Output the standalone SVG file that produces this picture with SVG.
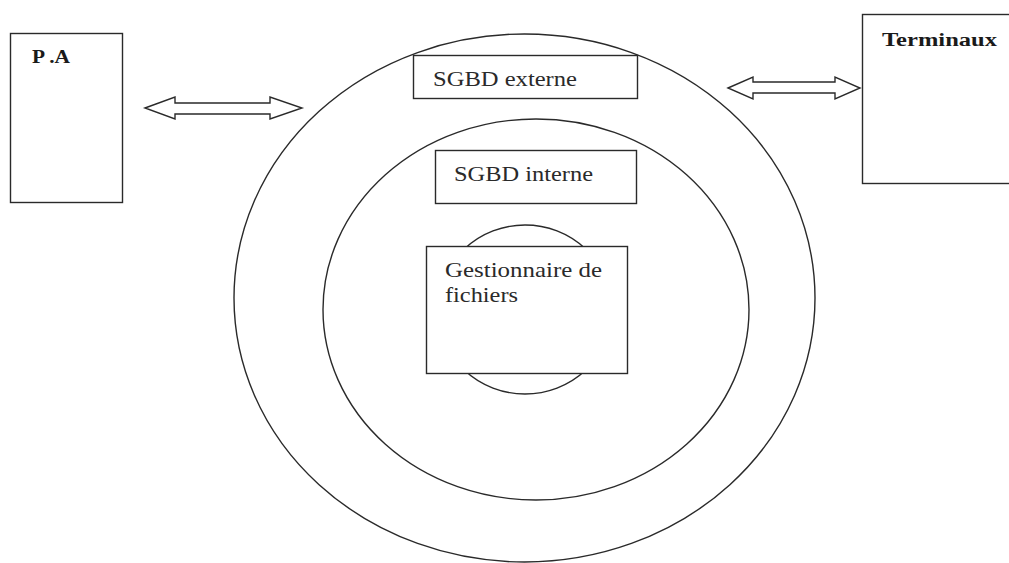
<svg xmlns="http://www.w3.org/2000/svg" width="1009" height="563" viewBox="0 0 1009 563">
  <style>
    .ln { fill: none; stroke: #2a2a2a; stroke-width: 1.4; }
    .box { fill: #ffffff; stroke: #2a2a2a; stroke-width: 1.4; }
    .arrow { fill: #ffffff; stroke: #2a2a2a; stroke-width: 1.4; stroke-linejoin: miter; }
    text { font-family: 'Liberation Serif', 'Times New Roman', Times, serif; }
    .t { font-size: 21px; fill: #2a2a2a; }
    .tb { font-size: 18px; font-weight: bold; fill: #1a1a1a; }
  </style>
  <rect width="1009" height="563" fill="#ffffff"/>

  <g id="outer-layer">
    <ellipse class="ln" cx="524.5" cy="298" rx="290.5" ry="264"/>
  </g>
  <g id="inner-layer">
    <ellipse class="ln" cx="536" cy="309.5" rx="213" ry="190.5"/>
  </g>
  <g id="core-layer">
    <ellipse class="ln" cx="525" cy="309.5" rx="87" ry="84.5"/>
  </g>

  <g id="pa">
    <rect class="box" x="10.5" y="33.5" width="112" height="169"/>
    <text class="tb" x="32" y="63" textLength="38" lengthAdjust="spacingAndGlyphs">P .A</text>
  </g>

  <g id="terminaux">
    <rect class="box" x="862.5" y="14.5" width="160" height="169"/>
    <text class="tb" x="882" y="46" textLength="115" lengthAdjust="spacingAndGlyphs">Terminaux</text>
  </g>

  <g id="sgbd-externe">
    <rect class="box" x="413.5" y="55.5" width="224" height="43"/>
    <text class="t" x="433" y="86" textLength="144" lengthAdjust="spacingAndGlyphs">SGBD externe</text>
  </g>

  <g id="sgbd-interne">
    <rect class="box" x="435.5" y="150.5" width="201" height="53"/>
    <text class="t" x="454" y="181" textLength="139" lengthAdjust="spacingAndGlyphs">SGBD interne</text>
  </g>

  <g id="gestionnaire">
    <rect class="box" x="426.5" y="246.5" width="201" height="127"/>
    <text class="t" x="445" y="277" textLength="157" lengthAdjust="spacingAndGlyphs">Gestionnaire de</text>
    <text class="t" x="445" y="302" textLength="73" lengthAdjust="spacingAndGlyphs">fichiers</text>
  </g>

  <g id="connectors">
    <polygon class="arrow" points="145,108 175,97 175,103 270,103 270,97 302,108 270,119 270,114 175,114 175,119"/>
    <polygon class="arrow" points="728,88 753,77 753,82 835,82 835,77 860,88 835,99 835,93 753,93 753,99"/>
  </g>
</svg>
